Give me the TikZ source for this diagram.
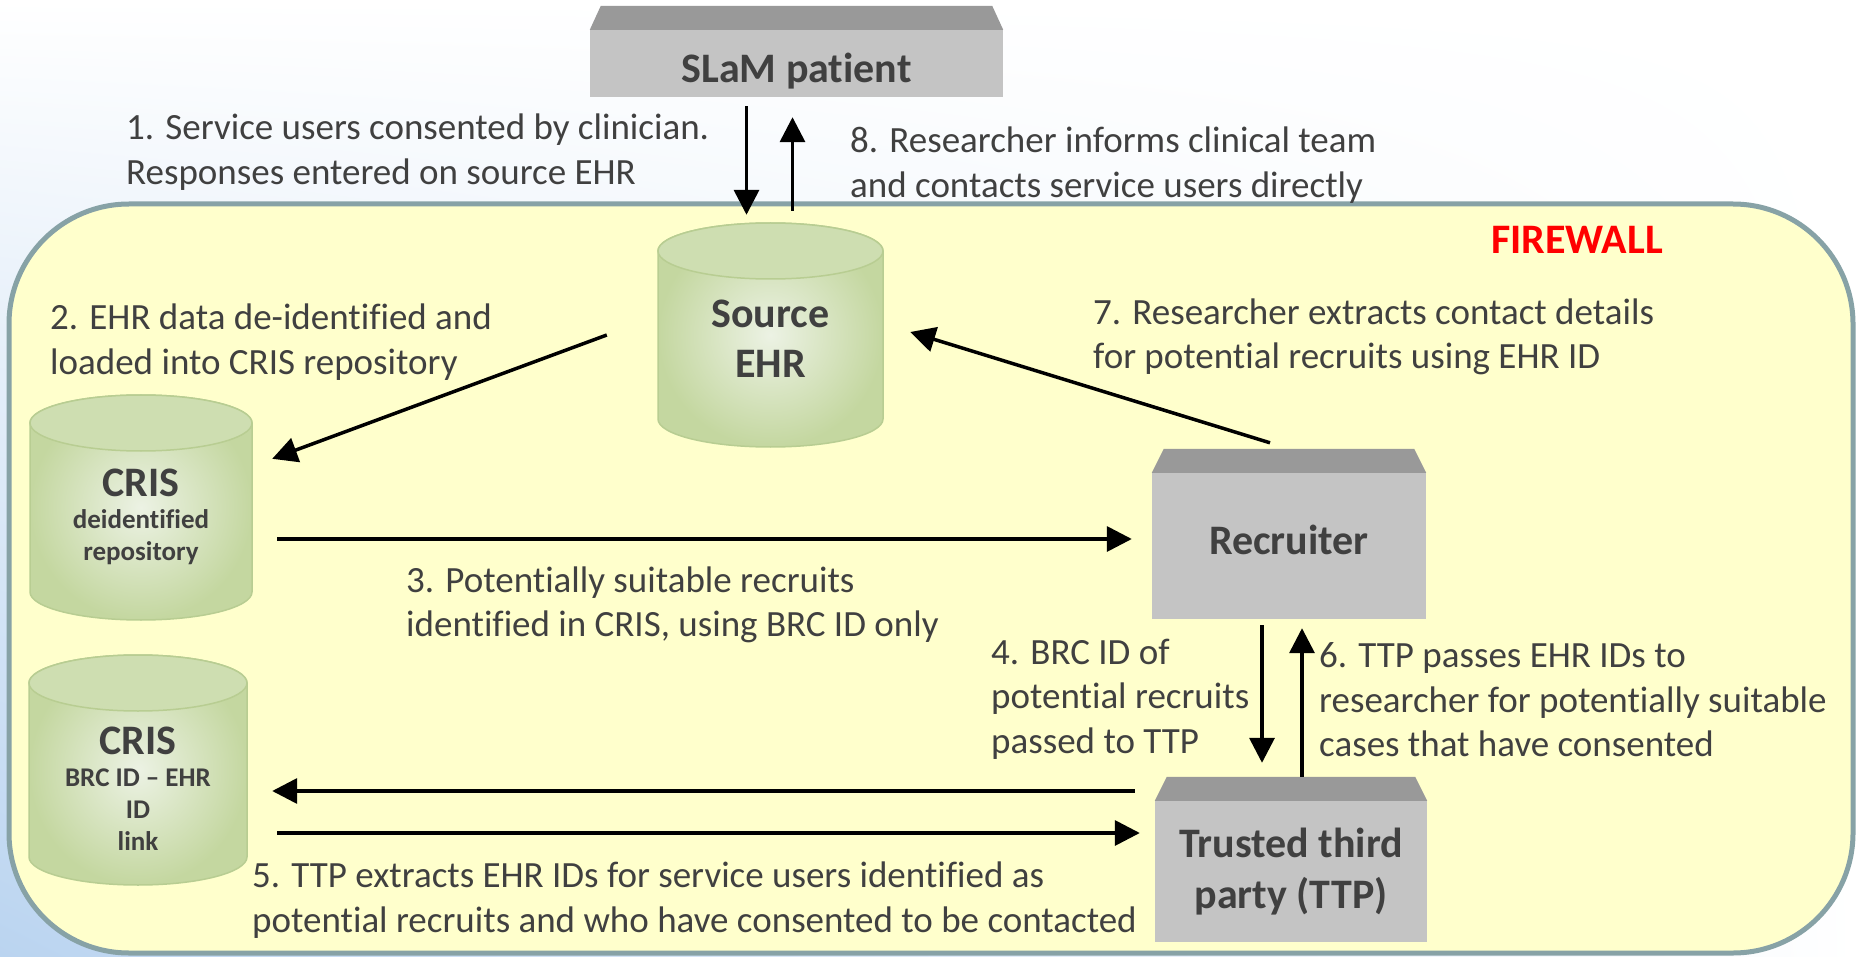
\documentclass[tikz,border=0pt]{standalone}
\usepackage{fontspec}
\setmainfont[Ligatures=NoCommon]{Carlito}
\usetikzlibrary{arrows.meta,shadings}

\definecolor{notegray}{RGB}{64,64,64}
\definecolor{boxfront}{RGB}{196,196,196}
\definecolor{boxtop}{RGB}{153,153,153}
\definecolor{wallfill}{RGB}{255,255,204}
\definecolor{walledge}{RGB}{135,162,166}
\definecolor{dblight}{RGB}{236,242,228}
\definecolor{dbdark}{RGB}{196,215,160}
\definecolor{dbtop}{RGB}{206,222,177}
\definecolor{dbedge}{RGB}{184,205,146}
\definecolor{bgblue}{RGB}{186,212,240}

\newcommand{\dbbig}{\fontsize{42}{32}\selectfont}
% database drum: name, centre x, top y, bottom y, half width, text, node options
\newcommand{\dbnode}[7]{%
  \shade[inner color=dblight, outer color=dbdark, draw=dbedge, line width=1.5pt]
    (#2-#5,#3+28) -- (#2-#5,#4-28)
    arc[start angle=180, end angle=0, x radius=#5, y radius=28]
    -- (#2+#5,#3+28)
    arc[start angle=0, end angle=-180, x radius=#5, y radius=28] -- cycle;
  \filldraw[fill=dbtop, draw=dbedge, line width=1.5pt] (#2,#3+28) ellipse[x radius=#5, y radius=28];
  \node[dbtext, minimum width=2*#5, minimum height=#4-#3-28, #7] (#1) at (#2,{(#3+28+#4)/2}) {#6};
}
% slanted lid on a box node: name, inset
\newcommand{\bevel}[2]{%
  \fill[boxtop] (#1.north west) -- ([shift={(#2,-24)}]#1.north west)
    -- ([shift={(-#2,-24)}]#1.north east) -- (#1.north east) -- cycle;
}

\begin{document}
\begin{tikzpicture}[x=1pt, y=-1pt,
    box/.style={rectangle, fill=boxfront, text=notegray, inner sep=0, align=center,
      font=\fontsize{42}{51}\selectfont\bfseries},
    dbtext/.style={inner sep=0, align=center, text=notegray,
      font=\fontsize{42}{50}\selectfont\bfseries},
    dbsmall/.style={font=\fontsize{27}{32}\selectfont\bfseries},
    note/.style={anchor=west, align=left, inner sep=0, text=notegray,
      font=\fontsize{37}{44.5}\selectfont},
    flow/.style={line width=3.5pt, -{Triangle[length=25pt, width=25pt]}}]
  \useasboundingbox (0,0) rectangle (1858,957);
  \shade[upper left=white, upper right=white, lower left=bgblue, lower right=white]
    (0,0) rectangle (1858,957);
  \draw[fill=wallfill, draw=walledge, line width=5pt, rounded corners=120pt]
    (9,204) rectangle (1853,953);

  \node[box, minimum width=413, minimum height=67, text height=38pt, text depth=0pt] (slam) at (796.5,63.5) {SLaM patient};
  \bevel{slam}{11}
  \node[box, minimum width=274, minimum height=146, text depth=12pt] (rec) at (1289,546) {Recruiter};
  \bevel{rec}{12}
  \node[box, minimum width=272, minimum height=141] (ttp) at (1291,871.5) {Trusted third\\party (TTP)};
  \bevel{ttp}{12}

  \dbnode{src}{770.5}{223}{447}{112.5}{Source\\EHR}{yshift=10pt}
  \dbnode{cris}{141}{395}{620}{111}{\dbbig CRIS\\deidentified\\repository}{dbsmall, yshift=5pt}
  \dbnode{link}{138}{655}{885}{109}{\dbbig CRIS\\BRC ID -- EHR\\ID\\link}{dbsmall, yshift=-5pt}

  \node[anchor=base, inner sep=0, text=red, font=\fontsize{42}{50}\selectfont\bfseries] (fw) at (1577,254) {FIREWALL};

  \node[note] (lbl1) at (126,152) {1. Service users consented by clinician.\\Responses entered on source EHR};
  \node[note] (lbl2) at (50,342) {2. EHR data de-identified and\\loaded into CRIS repository};
  \node[note] (lbl3) at (406,605) {3. Potentially suitable recruits\\identified in CRIS, using BRC ID only};
  \node[note] (lbl4) at (991,699) {4. BRC ID of\\potential recruits\\passed to TTP};
  \node[note] (lbl5) at (252,900) {5. TTP extracts EHR IDs for service users identified as\\potential recruits and who have consented to be contacted};
  \node[note] (lbl6) at (1319,700) {6. TTP passes EHR IDs to\\researcher for potentially suitable\\cases that have consented};
  \node[note] (lbl7) at (1093,337) {7. Researcher extracts contact details\\for potential recruits using EHR ID};
  \node[note] (lbl8) at (850,165) {8. Researcher informs clinical team\\and contacts service users directly};

  \draw[flow] ([xshift=-50pt,yshift=-9pt]slam.south) -- ([xshift=-24pt,yshift=26pt]src.north);
  \draw[flow] ([xshift=22pt,yshift=30pt]src.north) -- ([xshift=-4pt,yshift=-20pt]slam.south);
  \draw[flow] ([xshift=-51pt,yshift=4pt]src.west) -- ([xshift=20pt,yshift=-41pt]cris.north east);
  \draw[flow] ([xshift=25pt,yshift=-22.5pt]cris.east) -- ([xshift=-20pt,yshift=7pt]rec.west);
  \draw[flow] ([xshift=-27pt,yshift=-6pt]rec.south) -- ([xshift=-29pt,yshift=38pt]ttp.north);
  \draw[flow] ([xshift=11pt,yshift=24pt]ttp.north) -- ([xshift=13pt,yshift=-9pt]rec.south);
  \draw[flow] ([xshift=-20pt,yshift=80.5pt]ttp.west) -- ([xshift=25pt,yshift=-2pt]link.east);
  \draw[flow] ([xshift=30pt,yshift=-44pt]link.east) -- ([xshift=-15pt,yshift=38.5pt]ttp.west);
  \draw[flow] ([xshift=-19pt,yshift=30pt]rec.north) -- ([xshift=27pt,yshift=7pt]src.east);
\end{tikzpicture}
\end{document}
